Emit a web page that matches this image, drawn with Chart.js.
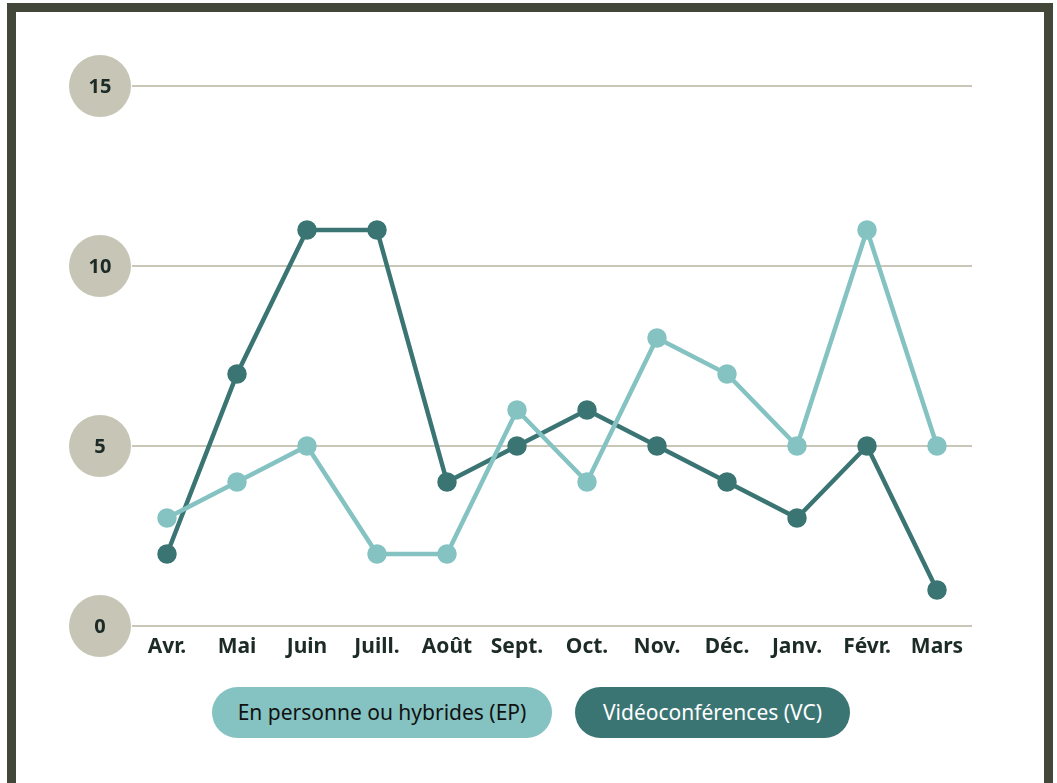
<!DOCTYPE html>
<html>
<head>
<meta charset="utf-8">
<script src="https://cdn.jsdelivr.net/npm/chart.js@4/dist/chart.umd.min.js"></script>
<style>
  body { margin: 0; background: #fff; width: 1057px; height: 783px; overflow: hidden; position: relative; }
  #frame { position: absolute; left: 7px; top: 3px; width: 1028px; height: 800px; border: 9px solid #43473a; background: #fff; }
  #chart { position: absolute; left: 0; top: 0; }
  .pill { position: absolute; top: 687px; height: 51px; border-radius: 26px; font-family: "Noto Sans", sans-serif; font-size: 21px; line-height: 51px; text-align: center; }
  #ep { left: 212px; width: 340px; background: #85c2c2; color: #111; }
  #vc { left: 575px; width: 275px; background: #3b7573; color: #fff; }
</style>
</head>
<body>
<div id="frame"></div>
<canvas id="chart" width="1057" height="680"></canvas>
<div class="pill" id="ep">En personne ou hybrides (EP)</div>
<div class="pill" id="vc">Vidéoconférences (VC)</div>
<script>
const months = ['Avr.', 'Mai', 'Juin', 'Juill.', 'Août', 'Sept.', 'Oct.', 'Nov.', 'Déc.', 'Janv.', 'Févr.', 'Mars'];
const epValues = [3, 4, 5, 2, 2, 6, 4, 8, 7, 5, 11, 5];
const vcValues = [2, 7, 11, 11, 4, 5, 6, 5, 4, 3, 5, 1];
const yTicks = [0, 5, 10, 15];

const textColor = '#1d2b27';

// round grey badges for the y labels
const badges = {
  id: 'badges',
  afterDraw(chart) {
    const ctx = chart.ctx;
    const y = chart.scales.y;
    ctx.save();
    for (const v of yTicks) {
      const py = y.getPixelForValue(v);
      ctx.beginPath();
      ctx.arc(100, py, 31, 0, Math.PI * 2);
      ctx.fillStyle = '#c6c5b6';
      ctx.fill();
      ctx.fillStyle = textColor;
      ctx.font = 'bold 20px "Noto Sans"';
      ctx.textAlign = 'center';
      ctx.textBaseline = 'middle';
      ctx.fillText(String(v), 100, py + 1);
    }
    ctx.restore();
  }
};

new Chart('chart', {
  type: 'line',
  data: {
    labels: months,
    datasets: [{
      label: 'En personne ou hybrides (EP)',
      data: epValues,
      borderColor: '#85c2c2',
      backgroundColor: '#85c2c2',
      borderWidth: 4.5,
      pointRadius: 7.5,
      pointHoverRadius: 7.5,
      tension: 0
    }, {
      label: 'Vidéoconférences (VC)',
      data: vcValues,
      borderColor: '#3b7573',
      backgroundColor: '#3b7573',
      borderWidth: 4.5,
      pointRadius: 7.5,
      pointHoverRadius: 7.5,
      tension: 0
    }]
  },
  options: {
    responsive: false,
    animation: false,
    layout: { padding: { left: 132, right: 85, top: 86, bottom: 14 } },
    plugins: { legend: { display: false }, tooltip: { enabled: false } },
    scales: {
      x: {
        offset: true,
        grid: { display: false },
        border: { display: false },
        ticks: {
          color: textColor,
          padding: 0,
          font: { family: 'Noto Sans', size: 21, weight: 'bold' },
          maxRotation: 0,
          autoSkip: false
        },
        afterFit(s) { s.height = 40; }
      },
      y: {
        min: 0,
        max: 15,
        ticks: { stepSize: 5, display: false },
        grid: { color: '#c9c7b8', lineWidth: 2, drawTicks: false },
        border: { display: false },
        afterFit(s) { s.width = 0; }
      }
    }
  },
  plugins: [badges]
});
</script>
</body>
</html>
